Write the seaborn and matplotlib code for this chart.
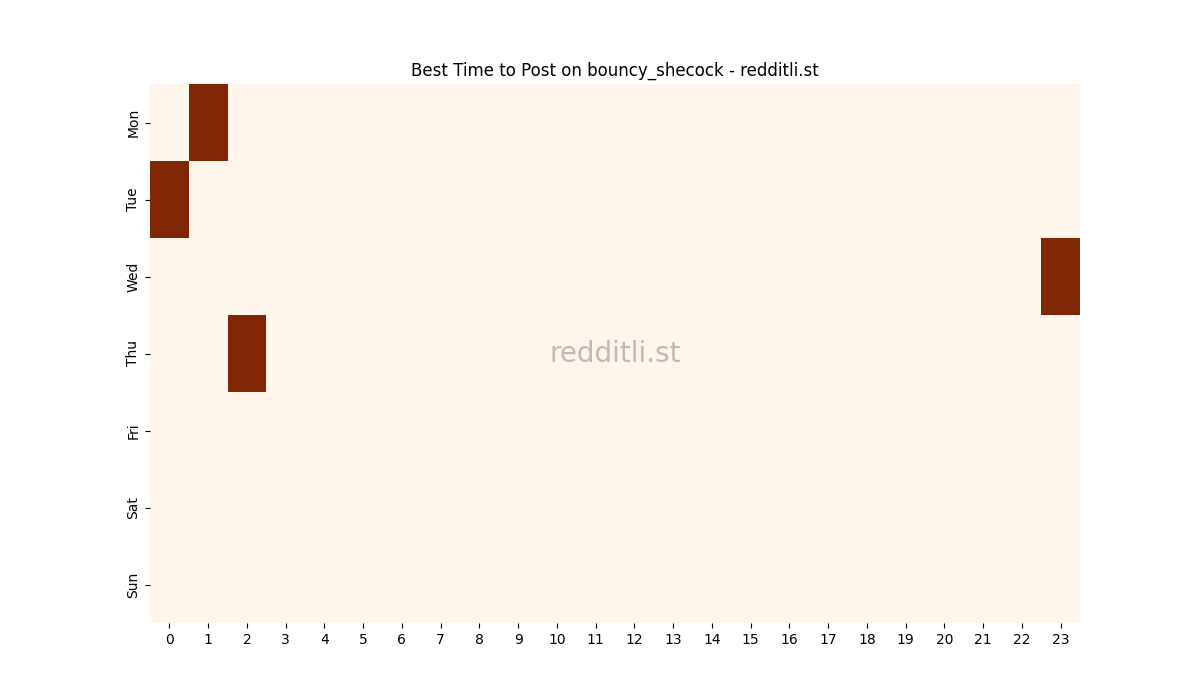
import numpy as np
import pandas as pd
import seaborn as sns
import matplotlib
matplotlib.use("Agg")
import matplotlib.pyplot as plt

# Best posting times: day / hour cells that are "hot"
days = ["Mon", "Tue", "Wed", "Thu", "Fri", "Sat", "Sun"]
hours = list(range(24))
hot_days = ["Mon", "Tue", "Wed", "Thu"]
hot_hours = [1, 0, 23, 2]
hot_values = [1, 1, 1, 1]

grid = pd.DataFrame(0, index=days, columns=hours)
for d, h, v in zip(hot_days, hot_hours, hot_values):
    grid.loc[d, h] = v

fig, ax = plt.subplots(figsize=(12, 7), dpi=100)
sns.heatmap(grid, cmap="Oranges", cbar=False, ax=ax)

ax.set_title("Best Time to Post on bouncy_shecock - redditli.st")
ax.text(0.5, 0.5, "redditli.st", transform=ax.transAxes,
        fontsize=20, color="gray", alpha=0.5, ha="center", va="center")

plt.savefig("out.png")
